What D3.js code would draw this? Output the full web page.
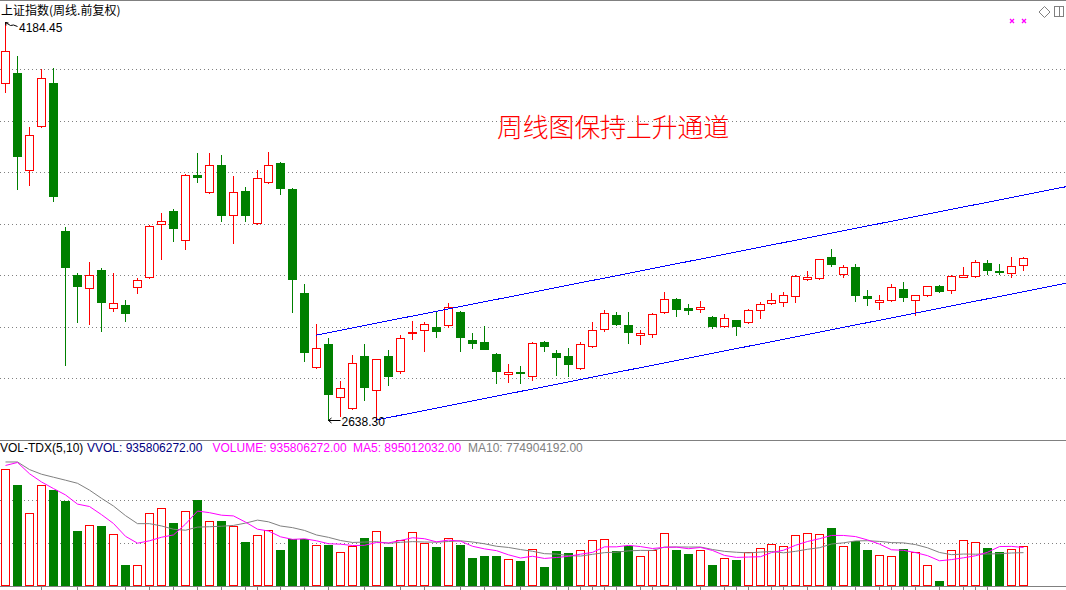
<!DOCTYPE html>
<html>
<head>
<meta charset="utf-8">
<script src="https://cdn.jsdelivr.net/npm/d3@7"></script>
<style>
  html, body { margin: 0; padding: 0; background: #fff; overflow: hidden; }
  svg { display: block; }
  text { font-family: "Liberation Sans", Arial, sans-serif; }
  .cjk { font-family: "Noto Sans CJK SC", sans-serif; }
</style>
</head>
<body>
<div id="chart"></div>
<script>
// weekly OHLC, Shanghai Composite, oldest first
const opens = [3945.6, 3986.8, 3610.0, 3779.8, 3946.8, 3372.0, 3201.1, 3149.5, 3220.6, 3071.8,
  3084.6, 3153.4, 3192.2, 3398.0, 3449.7, 3335.9, 3590.7, 3522.3, 3628.3, 3433.0,
  3527.4, 3401.9, 3563.5, 3636.1, 3535.1, 3131.2, 2845.0, 2933.2, 2728.5, 2683.5,
  2886.6, 2753.4, 2886.6, 2827.2, 2975.9, 2986.4, 2999.2, 3005.8, 3057.4, 2948.7,
  2940.9, 2894.3, 2815.5, 2824.5, 2810.1, 2940.9, 2898.2, 2886.6, 2838.8, 2924.2,
  2990.3, 3045.8, 3007.0, 2969.3, 2970.8, 3056.3, 3107.9, 3071.1, 3067.9, 3038.0,
  3001.9, 3026.4, 3017.5, 3064.0, 3091.2, 3095.1, 3121.5, 3184.4, 3188.3, 3271.1,
  3203.8, 3231.1, 3119.6, 3095.1, 3102.9, 3146.8, 3102.9, 3122.3, 3157.2, 3141.7,
  3194.5, 3196.1, 3246.6, 3217.8, 3207.7, 3238.8];
const highs = [4184.45, 4051.6, 3775.9, 4000.0, 4006.2, 3387.5, 3208.9, 3251.6, 3228.3, 3208.9,
  3104.0, 3190.7, 3395.0, 3441.9, 3457.4, 3594.5, 3674.9, 3674.9, 3667.2, 3585.6,
  3542.9, 3608.9, 3678.8, 3640.0, 3539.0, 3166.2, 3010.8, 2955.3, 2789.5, 2889.3,
  2933.2, 2876.0, 2909.9, 2968.1, 3022.5, 3018.6, 3058.6, 3092.4, 3060.0, 2975.9,
  3001.9, 2897.0, 2854.4, 2847.7, 2940.9, 2944.8, 2909.9, 2917.6, 2940.9, 3018.6,
  3065.2, 3057.4, 3057.4, 2987.5, 3052.0, 3135.1, 3111.8, 3088.5, 3100.2, 3041.9,
  3049.7, 3028.0, 3068.0, 3096.3, 3131.2, 3135.1, 3200.0, 3217.8, 3264.0, 3302.1,
  3240.0, 3243.9, 3142.9, 3122.3, 3166.2, 3174.0, 3124.0, 3158.0, 3161.1, 3200.0,
  3232.2, 3258.2, 3259.4, 3243.9, 3271.1, 3271.1];
const lows = [3913.0, 3536.3, 3551.8, 3775.9, 3489.7, 2851.0, 3019.8, 3012.0, 2984.8, 3062.5,
  3023.7, 3132.4, 3188.0, 3263.3, 3333.2, 3303.3, 3563.5, 3520.0, 3412.0, 3326.6,
  3412.0, 3398.0, 3560.0, 3516.9, 3057.5, 2867.2, 2840.0, 2638.3, 2653.6, 2680.0,
  2715.7, 2644.6, 2774.0, 2821.7, 2953.8, 2907.2, 2961.5, 3000.3, 2907.2, 2918.8,
  2912.0, 2782.9, 2784.5, 2781.7, 2794.5, 2907.2, 2812.8, 2810.1, 2836.0, 2920.0,
  2984.8, 3008.1, 2938.2, 2934.3, 2961.5, 3053.0, 3043.1, 3050.8, 3056.3, 2995.3,
  2999.0, 2969.3, 3015.0, 3034.1, 3088.0, 3080.7, 3097.4, 3182.0, 3185.0, 3237.3,
  3192.2, 3101.3, 3085.8, 3070.3, 3100.0, 3101.3, 3044.6, 3121.0, 3136.3, 3132.4,
  3194.0, 3193.0, 3206.2, 3206.2, 3194.5, 3221.7];
const closes = [4071.0, 3664.4, 3743.7, 3965.0, 3509.0, 3233.4, 3159.6, 3200.0, 3097.5, 3091.2,
  3054.7, 3180.6, 3391.4, 3409.7, 3384.8, 3589.5, 3582.9, 3628.3, 3435.3, 3522.3,
  3435.3, 3576.7, 3628.3, 3540.2, 3186.8, 2903.3, 2916.5, 2740.2, 2762.3, 2858.2,
  2767.3, 2873.8, 2810.1, 2955.3, 2980.9, 3009.7, 2984.8, 3075.7, 2961.5, 2938.2,
  2914.9, 2829.5, 2823.3, 2820.6, 2935.9, 2926.6, 2883.9, 2856.7, 2932.0, 2987.5,
  3053.6, 3012.0, 2980.9, 2975.9, 3049.7, 3107.9, 3070.3, 3067.1, 3076.9, 3004.2,
  3034.1, 3004.2, 3065.2, 3088.5, 3104.1, 3123.5, 3196.5, 3193.4, 3262.1, 3245.0,
  3231.1, 3124.6, 3110.7, 3102.9, 3153.4, 3114.5, 3122.3, 3157.2, 3140.2, 3196.1,
  3200.0, 3250.5, 3219.4, 3214.7, 3234.9, 3266.0];
// weekly volume
const volumes = [2714e6, 2349e6, 1691e6, 2342e6, 2233e6, 1977e6, 1279e6, 1412e6, 1395e6, 1202e6,
  488e6, 481e6, 1691e6, 1807e6, 1472e6, 1744e6, 2000e6, 1505e6, 1512e6, 1388e6,
  1023e6, 1179e6, 1295e6, 837e6, 1086e6, 1093e6, 947e6, 953e6, 784e6, 930e6,
  1116e6, 1272e6, 907e6, 1070e6, 1249e6, 1000e6, 907e6, 1109e6, 953e6, 651e6,
  698e6, 698e6, 628e6, 581e6, 853e6, 442e6, 814e6, 760e6, 830e6, 1063e6,
  1086e6, 814e6, 930e6, 691e6, 837e6, 1226e6, 837e6, 744e6, 837e6, 488e6,
  651e6, 605e6, 784e6, 877e6, 970e6, 923e6, 1179e6, 1226e6, 1202e6, 1349e6,
  923e6, 1047e6, 837e6, 714e6, 691e6, 860e6, 784e6, 480e6, 116e6, 830e6,
  1070e6, 1018e6, 884e6, 784e6, 853e6, 935806272];
// the nine weeks before the first bar, only used by MA5 / MA10
const volumesBefore = [2350e6, 3460e6, 3420e6, 2930e6, 2670e6, 2000e6, 3000e6, 3300e6, 3000e6];

const priceGrid = [2800, 3000, 3200, 3400, 3600, 3800, 4000];
const volumeGrid = [1e9, 2e9];
// hand drawn channel, [week index, price]
const upperChannel = [[26, 2968], [85, 3511]];
const lowerChannel = [[31, 2638], [85, 3136]];
const tickWeeks = [3, 6, 10, 12, 14, 16, 18, 20, 21, 23, 25, 27, 30, 33, 35, 38, 40, 43, 46, 47,
  48, 49, 50, 51, 53, 54, 56, 58, 60, 61, 62, 64, 65, 67, 69, 71, 73, 74, 75, 76, 78, 80, 81, 82];

const W = 1066, H = 590;
const RED = '#ff0000', GREEN = '#008000', GRAY = '#808080', MAGENTA = '#ff00ff';

const svg = d3.select('#chart').append('svg')
  .attr('width', W)
  .attr('height', H);

const x = d3.scaleLinear().domain([0, 85]).range([5, 1023]);
const y = d3.scaleLinear().domain([2800, 4000]).range([378.3, 69.3]);
const yv = d3.scaleLinear().domain([0, 2e9]).range([586, 500]);

const px = i => Math.round(x(i));
const py = p => Math.round(y(p));
const pv = v => Math.round(yv(v));

const weeks = opens.map((o, i) => ({
  i, o, h: highs[i], l: lows[i], c: closes[i], v: volumes[i], up: closes[i] >= o
}));

// frame lines
svg.append('line').attr('x1', 0).attr('x2', W).attr('y1', 0.5).attr('y2', 0.5)
  .attr('stroke', GRAY).attr('shape-rendering', 'crispEdges');
svg.append('line').attr('x1', 0).attr('x2', W).attr('y1', 440.5).attr('y2', 440.5)
  .attr('stroke', GRAY).attr('shape-rendering', 'crispEdges');

// price grid
svg.append('g').selectAll('line').data(priceGrid).join('line')
  .attr('x1', 0).attr('x2', W)
  .attr('y1', d => py(d) + 0.5).attr('y2', d => py(d) + 0.5)
  .attr('stroke', GRAY).attr('stroke-dasharray', '1,3')
  .attr('shape-rendering', 'crispEdges');

// candles
const candles = svg.append('g').attr('shape-rendering', 'crispEdges');
weeks.forEach(d => {
  const cx = px(d.i);
  const top = py(Math.max(d.o, d.c));
  const bot = py(Math.min(d.o, d.c));
  if (d.up) {
    if (py(d.h) < top) candles.append('line')
      .attr('x1', cx + 0.5).attr('x2', cx + 0.5).attr('y1', py(d.h)).attr('y2', top)
      .attr('stroke', RED);
    if (py(d.l) > bot) candles.append('line')
      .attr('x1', cx + 0.5).attr('x2', cx + 0.5).attr('y1', bot).attr('y2', py(d.l) + 1)
      .attr('stroke', RED);
    candles.append('rect')
      .attr('x', cx - 4 + 0.5).attr('y', top + 0.5)
      .attr('width', 8).attr('height', Math.max(bot - top, 0.5))
      .attr('fill', bot - top < 2 ? RED : '#fff').attr('stroke', RED);
  } else {
    candles.append('line')
      .attr('x1', cx + 0.5).attr('x2', cx + 0.5).attr('y1', py(d.h)).attr('y2', py(d.l) + 1)
      .attr('stroke', GREEN);
    candles.append('rect')
      .attr('x', cx - 4).attr('y', top)
      .attr('width', 9).attr('height', Math.max(bot - top, 1) + 1)
      .attr('fill', GREEN);
  }
});

// channel lines, extended to the right edge
function channel(pts) {
  const [[i0, p0], [i1, p1]] = pts;
  const slope = (p1 - p0) / (i1 - i0);
  const iEnd = x.invert(W);
  svg.append('line')
    .attr('x1', x(i0)).attr('y1', y(p0))
    .attr('x2', W).attr('y2', y(p0 + slope * (iEnd - i0)))
    .attr('stroke', '#0000ff').attr('stroke-width', 1)
    .attr('shape-rendering', 'crispEdges');
}
channel(upperChannel);
channel(lowerChannel);

// high / low markers
const hiIdx = d3.maxIndex(highs), loIdx = d3.minIndex(lows);
const hx = px(hiIdx) + 0.5, hy = py(highs[hiIdx]) + 0.5;
svg.append('path')
  .attr('d', `M${hx},${hy} l3,0.5 M${hx},${hy} l0.5,3 M${hx},${hy} l5,3 l3,-0.5 l4,1.5`)
  .attr('fill', 'none').attr('stroke', '#000');
svg.append('text').attr('x', 19).attr('y', 32)
  .attr('font-size', 12).attr('fill', '#000')
  .text(highs[hiIdx].toFixed(2));

const lx = px(loIdx) + 0.5, ly = py(lows[loIdx]) + 0.5;
svg.append('path')
  .attr('d', `M${lx},${ly} h12 M${lx},${ly} l3,-2.5 M${lx},${ly} l3,2.5`)
  .attr('fill', 'none').attr('stroke', '#000');
svg.append('text').attr('x', lx + 13).attr('y', ly + 5.5)
  .attr('font-size', 12).attr('fill', '#000')
  .text(lows[loIdx].toFixed(2));

// titles
svg.append('text').attr('class', 'cjk').attr('x', 1).attr('y', 15)
  .attr('font-size', 12).attr('fill', '#000')
  .text('上证指数(周线.前复权)');
svg.append('text').attr('class', 'cjk').attr('x', 497).attr('y', 137)
  .attr('font-size', 25.8).attr('font-weight', 300).attr('fill', RED)
  .text('周线图保持上升通道');

// top right icons
const icons = svg.append('g').attr('fill', 'none');
[1012, 1024].forEach(cx => {
  icons.append('path')
    .attr('d', `M${cx - 2},${19} l4,4 M${cx + 2},${19} l-4,4`)
    .attr('stroke', MAGENTA).attr('stroke-width', 1.3);
});
icons.append('path').attr('d', 'M1044.5,6.5 L1050,12 L1044.5,17.5 L1039,12 Z')
  .attr('stroke', GRAY);
icons.append('rect').attr('x', 1054.5).attr('y', 6.5).attr('width', 9).attr('height', 10)
  .attr('stroke', GRAY).attr('shape-rendering', 'crispEdges');
icons.append('line').attr('x1', 1059.5).attr('x2', 1059.5).attr('y1', 6.5).attr('y2', 16.5)
  .attr('stroke', GRAY).attr('shape-rendering', 'crispEdges');

// volume panel
svg.append('g').selectAll('line').data(volumeGrid).join('line')
  .attr('x1', 0).attr('x2', W)
  .attr('y1', d => pv(d) + 0.5).attr('y2', d => pv(d) + 0.5)
  .attr('stroke', GRAY).attr('stroke-dasharray', '1,3')
  .attr('shape-rendering', 'crispEdges');

const vbars = svg.append('g').attr('shape-rendering', 'crispEdges');
weeks.forEach(d => {
  const cx = px(d.i);
  const top = pv(d.v);
  if (d.up) {
    vbars.append('rect')
      .attr('x', cx - 4 + 0.5).attr('y', top + 0.5)
      .attr('width', 8).attr('height', 585 - top)
      .attr('fill', '#fff').attr('stroke', RED);
  } else {
    vbars.append('rect')
      .attr('x', cx - 4).attr('y', top)
      .attr('width', 9).attr('height', 586 - top)
      .attr('fill', GREEN);
  }
});

// moving averages of volume
const allVol = volumesBefore.concat(volumes);
const off = volumesBefore.length;
function ma(n) {
  return volumes.map((v, i) => d3.mean(allVol.slice(i + off - n + 1, i + off + 1)));
}
const line = d3.line().x((d, i) => px(i) + 0.5).y(d => yv(d));
svg.append('path').datum(ma(10)).attr('d', line)
  .attr('fill', 'none').attr('stroke', GRAY).attr('stroke-width', 1);
svg.append('path').datum(ma(5)).attr('d', line)
  .attr('fill', 'none').attr('stroke', MAGENTA).attr('stroke-width', 1);

// bottom axis
svg.append('line').attr('x1', 0).attr('x2', W).attr('y1', 586.5).attr('y2', 586.5)
  .attr('stroke', GRAY).attr('shape-rendering', 'crispEdges');
const axis = svg.append('g').attr('transform', 'translate(0,587)')
  .call(d3.axisBottom(x).tickValues(tickWeeks).tickSize(3).tickFormat(''));
axis.select('.domain').remove();
axis.selectAll('line').attr('stroke', GRAY).attr('shape-rendering', 'crispEdges');

// volume legend
const legend = [
  { t: 'VOL-TDX(5,10)', x: 0, c: '#000' },
  { t: 'VVOL: 935806272.00', x: 87, c: '#000080' },
  { t: 'VOLUME: 935806272.00', x: 212.5, c: MAGENTA },
  { t: 'MA5: 895012032.00', x: 353, c: MAGENTA },
  { t: 'MA10: 774904192.00', x: 468, c: GRAY }
];
svg.append('g').selectAll('text').data(legend).join('text')
  .attr('x', d => d.x).attr('y', 452)
  .attr('font-size', 12).attr('fill', d => d.c)
  .text(d => d.t);
</script>
</body>
</html>
